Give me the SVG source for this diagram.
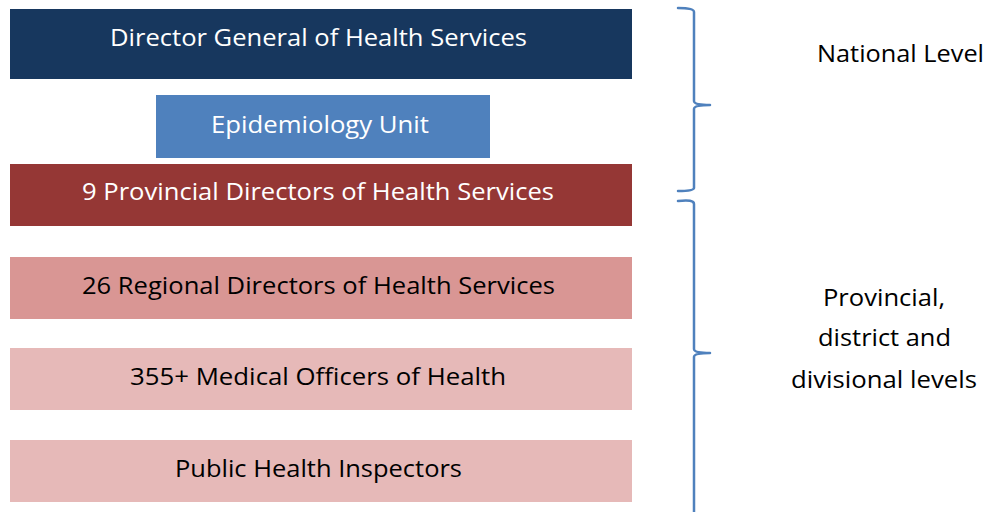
<svg xmlns="http://www.w3.org/2000/svg" width="992" height="512" viewBox="0 0 992 512">
  <style>
    .lbl { font-family: "Open Sans", "Liberation Sans", sans-serif; font-size: 24px; text-anchor: middle; }
    .light { fill: #ffffff; }
    .dark { fill: #000000; }
    .brace { fill: none; stroke: #4f81bd; stroke-width: 2.5; stroke-linejoin: round; stroke-linecap: round; }
  </style>
  <rect width="992" height="512" fill="#ffffff"/>

  <g id="dg">
    <rect x="10" y="9" width="622" height="70" fill="#17375e"/>
    <text class="lbl light" x="318.5" y="46" textLength="417" lengthAdjust="spacingAndGlyphs">Director General of Health Services</text>
  </g>
  <g id="epi">
    <rect x="156" y="95" width="334" height="63" fill="#4f81bd"/>
    <text class="lbl light" x="320" y="133" textLength="218" lengthAdjust="spacingAndGlyphs">Epidemiology Unit</text>
  </g>
  <g id="pdhs">
    <rect x="10" y="164" width="622" height="62" fill="#953735"/>
    <text class="lbl light" x="318" y="200" textLength="472" lengthAdjust="spacingAndGlyphs">9 Provincial Directors of Health Services</text>
  </g>
  <g id="rdhs">
    <rect x="10" y="257" width="622" height="62" fill="#d99694"/>
    <text class="lbl dark" x="318.5" y="294" textLength="473" lengthAdjust="spacingAndGlyphs">26 Regional Directors of Health Services</text>
  </g>
  <g id="moh">
    <rect x="10" y="348" width="622" height="62" fill="#e6b9b8"/>
    <text class="lbl dark" x="318" y="385" textLength="376" lengthAdjust="spacingAndGlyphs">355+ Medical Officers of Health</text>
  </g>
  <g id="phi">
    <rect x="10" y="440" width="622" height="62" fill="#e6b9b8"/>
    <text class="lbl dark" x="318.5" y="477" textLength="287" lengthAdjust="spacingAndGlyphs">Public Health Inspectors</text>
  </g>

  <g id="connectors">
    <!-- national level brace -->
    <path class="brace" d="M678 8 Q694 8 694 12 L694 101 Q694 105 710 105 Q694 105 694 109 L694 188 Q694 191 678 191"/>
    <!-- provincial / district / divisional brace -->
    <path class="brace" d="M678 201 Q694 199 694 204 L694 349 Q694 353 710 353 Q694 353 694 357 L694 514"/>
  </g>

  <g id="levels">
    <text class="lbl dark" x="900.5" y="62" textLength="167" lengthAdjust="spacingAndGlyphs">National Level</text>
    <text class="lbl dark" x="884" y="306" textLength="122" lengthAdjust="spacingAndGlyphs">Provincial,</text>
    <text class="lbl dark" x="884.5" y="346" textLength="133" lengthAdjust="spacingAndGlyphs">district and</text>
    <text class="lbl dark" x="884" y="388" textLength="186" lengthAdjust="spacingAndGlyphs">divisional levels</text>
  </g>
</svg>
